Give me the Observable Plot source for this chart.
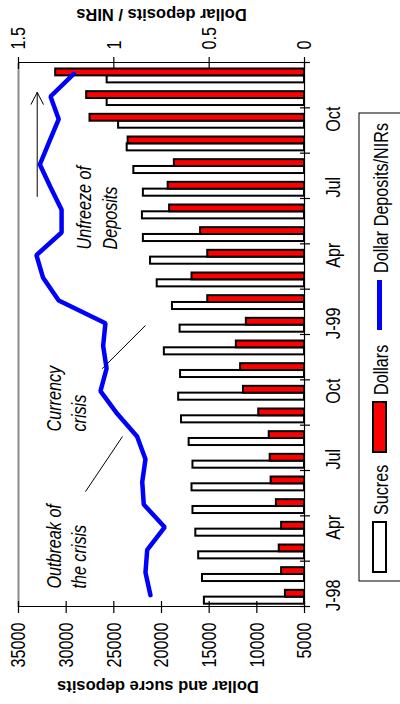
<!DOCTYPE html>
<html>
<head>
<meta charset="utf-8">
<script src="https://cdn.jsdelivr.net/npm/d3@7"></script>
<script src="https://cdn.jsdelivr.net/npm/@observablehq/plot@0.6"></script>
<style>
html, body { margin: 0; padding: 0; background: #fff; }
body { width: 400px; height: 704px; overflow: hidden; position: relative; }
#rot { position: absolute; left: 0; top: 0; width: 704px; height: 400px; overflow: hidden; background: #fff;
       transform-origin: 0 0; transform: translate(0px, 704px) rotate(-90deg); }
#chart svg { display: block; }
#legend { position: absolute; left: 0; top: 352px; }
</style>
</head>
<body>
<div id="rot"><div id="chart"></div><svg id="legend" width="704" height="48"></svg></div>
<script>
// ---- data ----
const months = ["Jan-98","Feb-98","Mar-98","Apr-98","May-98","Jun-98","Jul-98","Aug-98","Sep-98","Oct-98","Nov-98","Dec-98",
                "Jan-99","Feb-99","Mar-99","Apr-99","May-99","Jun-99","Jul-99","Aug-99","Sep-99","Oct-99","Nov-99","Dec-99"];
const sucres  = [15500,15700,16100,16400,16700,16800,16700,17100,17900,18200,18000,19700,
                 18050,18850,20450,21150,21900,22000,21900,22900,23600,24500,25700,25700];
const dollars = [7000,7400,7650,7400,7950,8500,8600,8700,9800,11400,11700,12150,
                 11100,15150,16800,15150,15900,19150,19300,18650,23500,27500,27850,31100];
const ratio   = [0.808,0.834,0.825,0.733,0.843,0.851,0.834,0.878,0.982,1.070,1.038,1.056,
                 1.044,1.289,1.371,1.406,1.274,1.274,1.332,1.388,1.339,1.289,1.332,1.210];
const tickLabels = ["J-98","Apr","Jul","Oct","J-99","Apr","Jul","Oct"];
const tickMonths = [0,3,6,9,12,15,18,21];
const leftTicks  = [5000,10000,15000,20000,25000,30000,35000];
const rightTicks = [0,0.5,1,1.5];
const seriesNames = ["Sucres","Dollars","Dollar Deposits/NIRs"];
const annotations = [
  {i: 0.79,  v: 32430, text: "Outbreak of\nthe crisis"},
  {i: 7.72,  v: 32430, text: "Currency\ncrisis"},
  {i: 15.75, v: 29231, text: "Unfreeze of\nDeposits"}
];
const leaders = [
  {i1: 5.07,  v1: 27972, i2: 7.50,  v2: 24091},
  {i1: 10.49, v1: 26220, i2: 12.40, v2: 21678}
];
const arrows = [{i1: 18.09, i2: 22.68, v: 33038}];

// right axis (0..1.5) shares the left axis (5000..35000)
const toLeft = r => 5000 + r * (30000 / 1.5);
const data = months.map((m, i) => ({i, month: m, sucres: sucres[i], dollars: dollars[i], ratio: ratio[i]}));
const labelPos = tickMonths.map(i => i + 0.5);
const boundaries = d3.range(0, months.length + 1, 2);

const chart = Plot.plot({
  width: 704, height: 352,
  marginLeft: 97, marginRight: 63, marginTop: 18, marginBottom: 48,
  style: {fontFamily: "'Liberation Sans', Arial, sans-serif", fontSize: "21px", background: "white", color: "black", overflow: "visible"},
  x: {type: "linear", domain: [0, months.length]},
  y: {type: "linear", domain: [5000, 35000]},
  marks: [
    Plot.ruleY([35000], {x1: 0, x2: months.length, stroke: "#8c8c8c", strokeWidth: 2}),
    Plot.rect(data, {x1: "i", x2: d => d.i + 1, y1: 5000, y2: "sucres", fill: "white", stroke: "black", strokeWidth: 2, insetLeft: 3.3, insetRight: 12.3}),
    Plot.rect(data, {x1: "i", x2: d => d.i + 1, y1: 5000, y2: "dollars", fill: "#ff0000", stroke: "black", strokeWidth: 2, insetLeft: 10.3, insetRight: 5.5}),
    Plot.line(data, {x: d => d.i + 0.5, y: d => toLeft(d.ratio), stroke: "#0000ff", strokeWidth: 4.5, strokeLinejoin: "miter"}),
    // axis lines
    Plot.ruleX([0, months.length], {y1: 5000, y2: 35000, stroke: "black", strokeWidth: 1.2}),
    Plot.ruleY([5000], {x1: 0, x2: months.length, stroke: "black", strokeWidth: 1.2}),
    // crossing tick marks
    Plot.ruleY(leftTicks, {y: d => d, x1: 0, x2: 0, insetLeft: -6, insetRight: -6, stroke: "black", strokeWidth: 1.2}),
    Plot.ruleY(rightTicks.map(toLeft), {y: d => d, x1: months.length, x2: months.length, insetLeft: -6, insetRight: -6, stroke: "black", strokeWidth: 1.2}),
    Plot.ruleX(boundaries, {x: d => d, y1: 5000, y2: 5000, insetTop: -4, insetBottom: -6, stroke: "black", strokeWidth: 1.2}),
    // tick labels
    Plot.axisY(leftTicks, {anchor: "left", tickSize: 0, tickPadding: 16, tickFormat: d => String(d), label: null}),
    Plot.axisY(rightTicks.map(toLeft), {anchor: "right", tickSize: 0, tickPadding: 13, tickFormat: d => String((d - 5000) / 20000), label: null}),
    Plot.axisX(labelPos, {anchor: "bottom", tickSize: 0, tickPadding: 21, tickFormat: d => tickLabels[labelPos.indexOf(d)], label: null}),
    // axis titles
    Plot.text(["Dollar and sucre deposits"], {text: d => d, frameAnchor: "left", textAnchor: "middle", lineAnchor: "middle", rotate: -90, dx: -79.5, dy: -3.5, fontWeight: "bold", fontSize: 16.5}),
    Plot.text(["Dollar deposits / NIRs"], {text: d => d, frameAnchor: "right", textAnchor: "middle", lineAnchor: "middle", rotate: -90, dx: 48.5, fontWeight: "bold", fontSize: 16.5}),
    // annotations
    Plot.text(annotations, {x: "i", y: "v", text: "text", textAnchor: "start", lineAnchor: "top", lineHeight: 1.2, fontStyle: "italic"}),
    Plot.link(leaders, {x1: "i1", y1: "v1", x2: "i2", y2: "v2", stroke: "black", strokeWidth: 1}),
    Plot.arrow(arrows, {x1: "i1", x2: "i2", y1: "v", y2: "v", stroke: "black", strokeWidth: 1, headLength: 20, headAngle: 55})
  ]
});
document.getElementById("chart").appendChild(chart);

// narrow (condensed) glyphs for the regular-weight text
const NARROW = 0.77;
chart.querySelectorAll("text").forEach(t => {
  const g = t.closest("g");
  if (g && g.getAttribute("font-weight") === "bold") return;
  const tr = t.getAttribute("transform") || "";
  t.setAttribute("transform", tr + ` scale(${NARROW},1)`);
});

// legend below the chart
const lg = d3.select("#legend")
  .style("font-family", "'Liberation Sans', Arial, sans-serif")
  .style("font-size", "21px");
lg.append("rect").attr("x", 123).attr("y", 7).attr("width", 468).attr("height", 80)
  .attr("fill", "white").attr("stroke", "black").attr("stroke-width", 1);
const swatches = [
  {type: "rect", fill: "white", x: 132, tx: 189},
  {type: "rect", fill: "#ff0000", x: 252, tx: 309},
  {type: "line", stroke: "#0000ff", x: 374, tx: 431}
];
swatches.forEach((s, k) => {
  if (s.type === "rect") {
    lg.append("rect").attr("x", s.x).attr("y", 21).attr("width", 50).attr("height", 13)
      .attr("fill", s.fill).attr("stroke", "black").attr("stroke-width", 2);
  } else {
    lg.append("line").attr("x1", s.x).attr("x2", s.x + 50).attr("y1", 27.5).attr("y2", 27.5)
      .attr("stroke", s.stroke).attr("stroke-width", 5);
  }
  lg.append("text").attr("transform", `translate(${s.tx},36) scale(${NARROW},1)`)
    .attr("fill", "black").text(seriesNames[k]);
});
</script>
</body>
</html>
